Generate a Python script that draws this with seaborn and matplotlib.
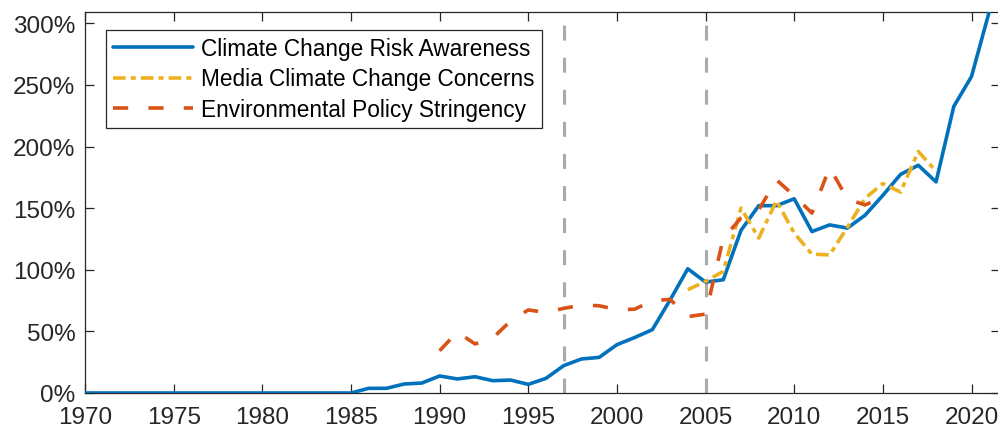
import numpy as np
import pandas as pd
import matplotlib
matplotlib.use("Agg")
import matplotlib.pyplot as plt
import seaborn as sns

# Annual index values (% relative to base)
years = list(range(1970, 2022))
risk_awareness = [0.0] * 16 + [
    3.8, 3.8, 7.3, 8.1, 13.8, 11.4, 13.2, 10.0, 10.5, 7.0,          # 1986-1995
    11.9, 22.2, 27.6, 28.9, 39.2, 45.0, 51.4, 75.5, 100.8, 90.0,    # 1996-2005
    91.9, 132.0, 152.0, 152.0, 157.6, 131.0, 136.4, 133.8, 144.3, 160.4,  # 2006-2015
    177.4, 184.8, 171.3, 232.5, 256.8, 309.4,                       # 2016-2021
]

media_years = list(range(2004, 2019))
media_concerns = [83.8, 90.6, 98.7, 150.0, 125.7, 156.0, 129.8, 112.7,
                  112.0, 134.5, 158.0, 170.0, 163.0, 196.0, 180.0]

policy_years = list(range(1990, 2016))
policy_stringency = [34.3, 49.5, 39.8, 44.6, 58.4, 67.4, 65.4, 68.7, 71.3, 70.8,
                     67.6, 68.0, 74.9, 76.0, 62.0, 64.0, 125.5, 142.0, 148.6, 173.0,
                     160.0, 146.0, 183.0, 157.4, 152.6, 158.8]

event_years = [1997, 2005]
x_ticks = list(range(1970, 2021, 5))
y_ticks = [0, 50, 100, 150, 200, 250, 300]

labels = ["Climate Change Risk Awareness",
          "Media Climate Change Concerns",
          "Environmental Policy Stringency"]
colors = ["#0072BD", "#EDB120", "#D95319"]

df_risk = pd.DataFrame({"year": years, "value": risk_awareness})
df_media = pd.DataFrame({"year": media_years, "value": media_concerns})
df_policy = pd.DataFrame({"year": policy_years, "value": policy_stringency})

sns.set_theme(style="white")
plt.rcParams["font.family"] = ["Liberation Sans", "DejaVu Sans"]

fig = plt.figure(figsize=(9.98, 4.31), dpi=100)
ax = fig.add_axes([85 / 998, 1 - 394 / 431, 915 / 998, (394 - 12.7) / 431])

lw = 2.6
sns.lineplot(data=df_risk, x="year", y="value", ax=ax, color=colors[0],
             linewidth=lw, label=labels[0], zorder=3)
sns.lineplot(data=df_media, x="year", y="value", ax=ax, color=colors[1],
             linewidth=lw, label=labels[1], zorder=3,
             linestyle=(0, (3.5, 1.4, 1.4, 1.4)), dash_capstyle="butt")
sns.lineplot(data=df_policy, x="year", y="value", ax=ax, color=colors[2],
             linewidth=lw, label=labels[2], zorder=3,
             linestyle=(0, (4.2, 5.6)), dash_capstyle="butt")

for yr in event_years:
    ax.axvline(yr, color="#AAAAAA", linewidth=2.2, linestyle=(0, (4.9, 5.6)),
               dash_capstyle="butt", zorder=2)

ax.set_xlim(1970, 1970 + (1000 - 85) / 17.73)
ax.set_ylim(0, 309.4)
ax.set_xticks(x_ticks)
ax.set_xticklabels([str(t) for t in x_ticks])
ax.set_yticks(y_ticks)
ax.set_yticklabels([f"{t}%" for t in y_ticks])
ax.set_xlabel("")
ax.set_ylabel("")

dark = "#262626"
for side in ["left", "right", "top", "bottom"]:
    ax.spines[side].set_visible(True)
    ax.spines[side].set_color(dark)
    ax.spines[side].set_linewidth(0.9)

ax.tick_params(axis="both", which="major", direction="in", length=6.5, width=0.9,
               color=dark, labelcolor=dark, labelsize=17.5,
               top=True, right=True, bottom=True, left=True)
ax.tick_params(axis="x", pad=9.5)
ax.tick_params(axis="y", pad=7)

leg = ax.legend(loc="upper left", bbox_to_anchor=((106 - 85) / 915, 1 - (31 - 12.7) / 381.3),
                borderaxespad=0, fontsize=16.3, frameon=True, fancybox=False,
                handlelength=3.55, handletextpad=0.36, borderpad=0.3,
                labelspacing=0.34, edgecolor=dark)
leg.get_frame().set_linewidth(0.9)
leg.get_frame().set_alpha(1)
for t in leg.get_texts():
    t.set_color("black")

fig.savefig("out.png", dpi=100)
